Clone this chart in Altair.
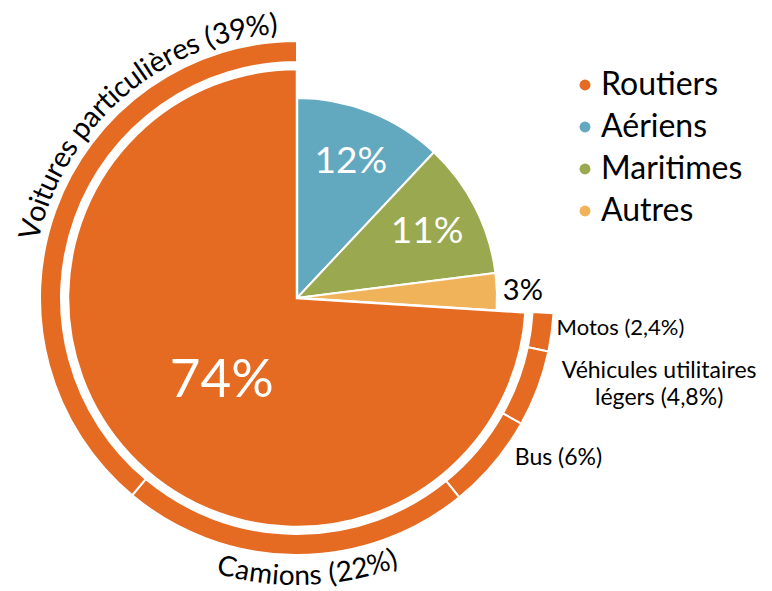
import altair as alt
import pandas as pd

# ---------------- data ----------------
modes = ["Aériens", "Maritimes", "Autres", "Routiers"]
mode_shares = [12, 11, 3, 74]
mode_labels = ["12%", "11%", "3%", "74%"]
legend_order = ["Routiers", "Aériens", "Maritimes", "Autres"]
legend_colors = ["#E56A22", "#62A8BE", "#9AA84F", "#F0B35A"]

road_parts = ["Motos", "Véhicules utilitaires légers", "Bus", "Camions", "Voitures particulières"]
road_shares = [2.4, 4.8, 6, 22, 39]
road_labels = ["Motos (2,4%)", "Véhicules utilitaires\nlégers (4,8%)", "Bus (6%)",
               "Camions (22%)", "Voitures particulières (39%)"]

# ---------------- derived tables ----------------
total_inner = sum(mode_shares)
rows, acc = [], 0.0
for m, v, lab in zip(modes, mode_shares, mode_labels):
    rows.append({"cat": m, "start": acc / total_inner, "end": (acc + v) / total_inner,
                 "mid": (acc + v / 2) / total_inner, "label": lab})
    acc += v
inner = pd.DataFrame(rows)

offset = sum(v for m, v in zip(modes, mode_shares) if m != "Routiers")
total_outer = offset + sum(road_shares)
rows, acc = [], offset
for p, v, lab in zip(road_parts, road_shares, road_labels):
    rows.append({"part": p, "start": acc / total_outer, "end": (acc + v) / total_outer,
                 "mid": (acc + v / 2) / total_outer, "label": lab})
    acc += v
outer = pd.DataFrame(rows)

# approximate glyph advance widths (em) for laying text along an arc
W = {" ": 0.26, "(": 0.30, ")": 0.30, "%": 0.78, ",": 0.25, "i": 0.24, "l": 0.24,
     "t": 0.34, "r": 0.36, "s": 0.41, "c": 0.46, "a": 0.50, "e": 0.53, "è": 0.53,
     "o": 0.56, "u": 0.55, "n": 0.55, "p": 0.56, "m": 0.83, "V": 0.62, "C": 0.66}


def arc_chars(text, a0, a1, flip):
    widths = [W.get(c, 0.58) for c in text]
    tot = sum(widths)
    out, run = [], 0.0
    for c, w in zip(text, widths):
        ang = a0 + (a1 - a0) * (run + w / 2) / tot
        rot = (ang - 180) % 360 if flip else ang % 360
        out.append({"ch": c, "pos": (ang % 360) / 360, "rot": rot})
        run += w
    return pd.DataFrame(out)


voit_chars = arc_chars(road_labels[4], 282.5, 356.0, False)
cam_chars = arc_chars(road_labels[3], 196.5, 159.0, True)

CX, CY = 289, 290
FONT = "Lato"
TSCALE = alt.Scale(domain=[0, 1])

color = alt.Color("cat:N",
                  scale=alt.Scale(domain=legend_order, range=legend_colors),
                  legend=alt.Legend(orient="none", legendX=561, legendY=61, title=None,
                                    symbolType="circle", symbolSize=120, symbolStrokeWidth=0,
                                    symbolOpacity=1, labelFontSize=32, labelFont=FONT,
                                    labelColor="black", rowPadding=10, labelOffset=0,
                                    padding=0, labelLimit=300))


def arcs(df):
    return alt.Chart(df).encode(
        theta=alt.Theta("start:Q", scale=TSCALE, stack=None),
        theta2=alt.Theta2("end:Q"),
        x=alt.value(CX), y=alt.value(CY))


pie_others = arcs(inner).transform_filter(alt.datum.cat != "Routiers").mark_arc(
    outerRadius=200, stroke="white", strokeWidth=2).encode(color=color)
pie_road = arcs(inner).transform_filter(alt.datum.cat == "Routiers").mark_arc(
    outerRadius=229, stroke="white", strokeWidth=2.5).encode(color=color)
ring = arcs(outer).mark_arc(innerRadius=236, outerRadius=257, stroke="white",
                            strokeWidth=2, fill="#E56A22")


def label(df, r, **kw):
    return alt.Chart(df).mark_text(font=FONT, **kw).encode(
        theta=alt.Theta("mid:Q", scale=TSCALE, stack=None),
        radius=alt.value(r), text="label:N",
        x=alt.value(CX), y=alt.value(CY))


lab_small = label(inner[inner.cat.isin(["Aériens", "Maritimes"])], 146,
                  fontSize=37, color="white", align="center", baseline="middle")
lab_autres = label(inner[inner.cat == "Autres"], 226,
                   fontSize=29, color="black", align="center", baseline="middle")
lab_road = label(inner[inner.cat == "Routiers"], 110,
                 fontSize=53, color="white", align="center", baseline="middle", dx=5, dy=8)

lab_motos = label(outer[outer.part == "Motos"], 262,
                  fontSize=22, color="black", align="left", baseline="middle", dy=-5)
lab_vul = label(outer[outer.part == "Véhicules utilitaires légers"], 262,
                fontSize=23, color="black", align="center", baseline="middle",
                lineBreak="\n", lineHeight=27, dx=117, dy=-19)
lab_bus = label(outer[outer.part == "Bus"], 265,
                fontSize=23, color="black", align="left", baseline="middle", dx=15, dy=-11)


def curved(df, r, size):
    return alt.Chart(df).mark_text(font=FONT, fontSize=size, color="black",
                                   align="center", baseline="alphabetic").encode(
        theta=alt.Theta("pos:Q", scale=TSCALE, stack=None),
        radius=alt.value(r), text="ch:N",
        angle=alt.Angle("rot:Q", scale=None),
        x=alt.value(CX), y=alt.value(CY))


cur_voit = curved(voit_chars, 265, 29)
cur_cam = curved(cam_chars, 287, 28)

chart = alt.layer(pie_others, pie_road, ring, lab_small, lab_autres, lab_road,
                  lab_motos, lab_vul, lab_bus, cur_voit, cur_cam).properties(
    width=756, height=583, autosize=alt.AutoSizeParams(type="none"), padding=0
).configure_view(stroke=None)

chart.save("out.html", embed_options={"renderer": "svg", "actions": False})
